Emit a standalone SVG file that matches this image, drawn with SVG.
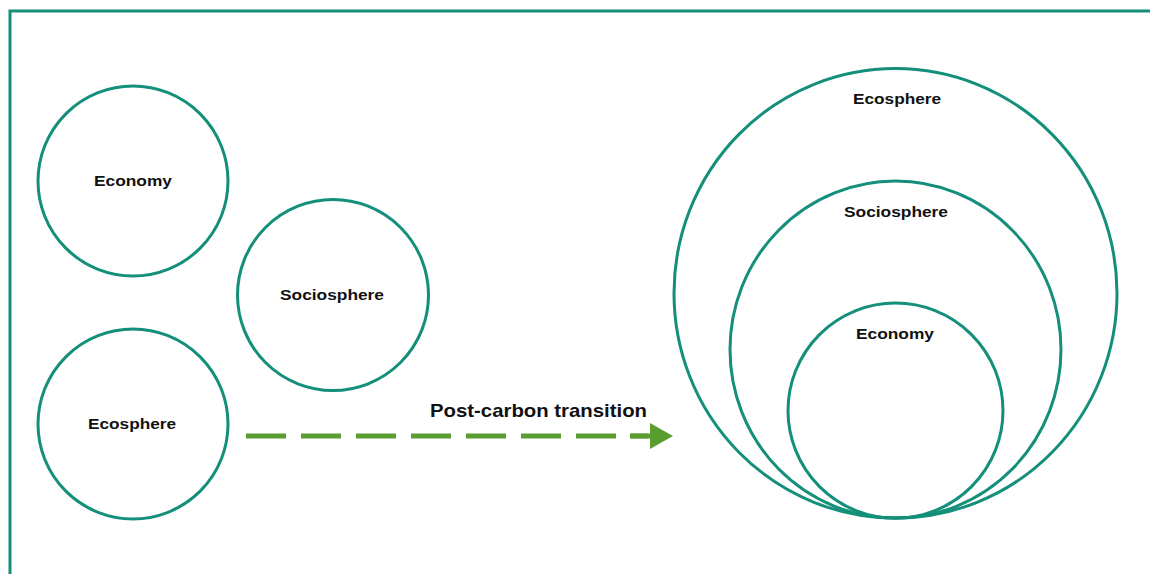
<svg xmlns="http://www.w3.org/2000/svg" width="1150" height="574" viewBox="0 0 1150 574">
<style>
.c{fill:none;stroke:#138f7a;stroke-width:3}
.t{font-family:"Liberation Sans",Arial,sans-serif;font-weight:bold;font-size:15px;fill:#111;text-anchor:middle}
.a{font-family:"Liberation Sans",Arial,sans-serif;font-weight:bold;font-size:19px;fill:#111}
</style>
<path d="M10,574 L10,11 L1150,11" fill="none" stroke="#138f7a" stroke-width="3"/>
<g id="economy-left"><circle class="c" cx="133" cy="181" r="95"/><text class="t" x="133" y="186" textLength="78" lengthAdjust="spacingAndGlyphs">Economy</text></g>
<g id="sociosphere-left"><circle class="c" cx="333" cy="295" r="95.5"/><text class="t" x="332" y="300" textLength="104" lengthAdjust="spacingAndGlyphs">Sociosphere</text></g>
<g id="ecosphere-left"><circle class="c" cx="133" cy="424" r="95"/><text class="t" x="132" y="429" textLength="88" lengthAdjust="spacingAndGlyphs">Ecosphere</text></g>
<g id="ecosphere-right"><ellipse class="c" cx="895.5" cy="293.3" rx="221.5" ry="224.8"/><text class="t" x="897" y="104" textLength="88" lengthAdjust="spacingAndGlyphs">Ecosphere</text></g>
<g id="sociosphere-right"><ellipse class="c" cx="895.5" cy="349.6" rx="165.5" ry="168.5"/><text class="t" x="896" y="217" textLength="104" lengthAdjust="spacingAndGlyphs">Sociosphere</text></g>
<g id="economy-right"><ellipse class="c" cx="895.5" cy="410.6" rx="107.5" ry="107.5"/><text class="t" x="895" y="339" textLength="78" lengthAdjust="spacingAndGlyphs">Economy</text></g>
<g id="connectors">
<line x1="246" y1="436" x2="648" y2="436" stroke="#5a9e32" stroke-width="5" stroke-dasharray="40 15"/>
<path d="M630,433.5 L650,433.5 L650,423 L673,436 L650,449 L650,438.5 L630,438.5 Z" fill="#5a9e32"/>
<text class="a" x="430" y="417" textLength="217" lengthAdjust="spacingAndGlyphs">Post-carbon transition</text>
</g>
</svg>
